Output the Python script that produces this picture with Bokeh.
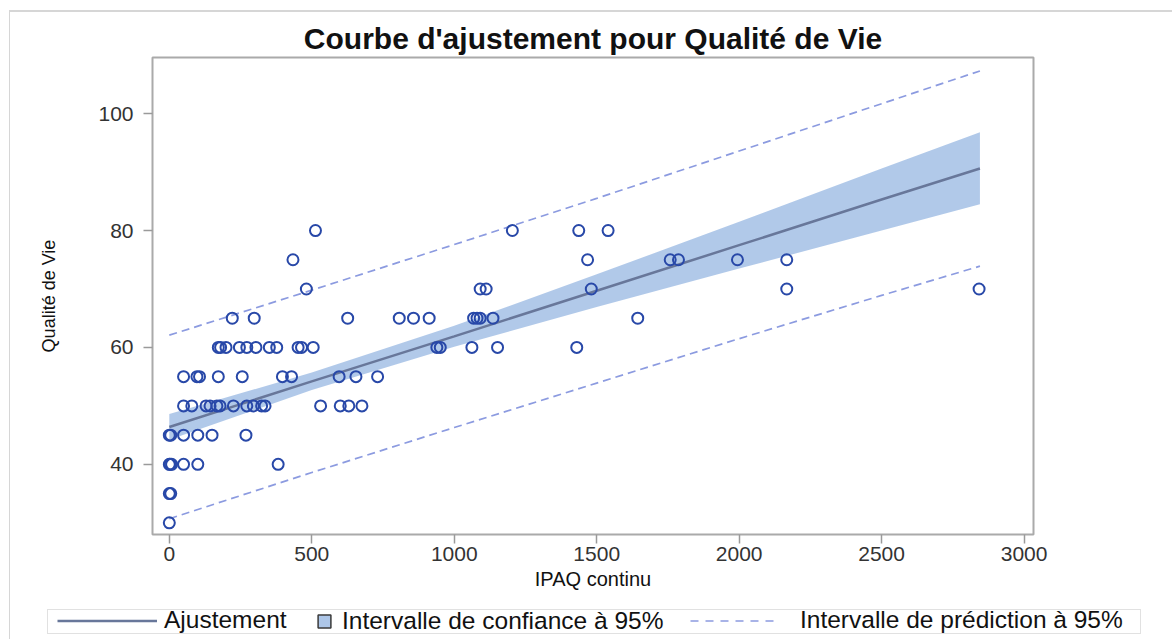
from bokeh.plotting import figure
from bokeh.layouts import column, row
from bokeh.models import Legend, LegendItem, Range1d, FixedTicker
from bokeh.embed import file_html
from bokeh.resources import INLINE

ipaq = [
    0,
    0, 5,
    0, 3, 8, 50, 100, 382,
    0, 5, 50, 100, 150, 269,
    50, 79, 129, 143, 167, 178, 225, 272, 295, 324, 336, 531, 600, 630, 676,
    50, 97, 106, 172, 256, 397, 429, 596, 655, 731,
    172, 180, 199, 246, 272, 304, 351, 377, 452, 464, 505, 939, 951, 1062, 1152, 1430,
    221, 298, 626, 807, 857, 912, 1068, 1080, 1091, 1136, 1644,
    481, 1091, 1112, 1481, 2167, 2842,
    434, 1468, 1758, 1787, 1994, 2167,
    513, 1204, 1437, 1540,
]
qualite = (
    [30]
    + [35] * 2
    + [40] * 6
    + [45] * 6
    + [50] * 15
    + [55] * 10
    + [60] * 16
    + [65] * 11
    + [70] * 6
    + [75] * 6
    + [80] * 4
)

# ---- fitted curve and limits ----
fit_x = [0, 500, 1000, 1500, 2000, 2500, 2845]
fit_y = [46.4, 54.2, 61.9, 69.7, 77.5, 85.3, 90.6]
ci_lo = [44.2, 52.7, 60.1, 66.9, 73.5, 80.0, 84.5]
ci_hi = [48.6, 55.7, 63.7, 72.5, 81.5, 90.6, 96.8]
pi_lo = [30.7, 38.6, 46.3, 53.9, 61.5, 68.9, 73.9]
pi_hi = [62.1, 69.8, 77.6, 85.5, 93.6, 101.7, 107.3]

x_ticks = [0, 500, 1000, 1500, 2000, 2500, 3000]
y_ticks = [40, 60, 80, 100]

FONT = "Liberation Sans"
BAND = "#adc6e8"
FITC = "#68779a"
PIC = "#8c9be0"
MARK = "#2848a8"
W = 1172
NAN = float("nan")

p = figure(
    width=W, height=604,
    output_backend="svg", toolbar_location=None,
    x_range=Range1d(-59, 3033), y_range=Range1d(28.0, 109.6),
    min_border_left=152, min_border_right=W - 1033,
    min_border_top=57, min_border_bottom=70,
    title="Courbe d'ajustement pour Qualité de Vie",
)
p.border_fill_color = None
p.background_fill_color = "white"
p.outline_line_color = "#aaaaaa"
p.outline_line_width = 2
p.xgrid.visible = False
p.ygrid.visible = False

p.title.align = "center"
p.title.text_font = FONT
p.title.text_font_style = "bold"
p.title.text_font_size = "30px"
p.title.text_color = "#111111"
p.title.standoff = 5

xa = p.xaxis[0]
ya = p.yaxis[0]
for ax in (xa, ya):
    ax.axis_line_color = None
    ax.major_tick_line_color = "#9a9a9a"
    ax.major_tick_line_width = 1.5
    ax.major_tick_out = 9
    ax.major_tick_in = 0
    ax.minor_tick_line_color = None
    ax.major_label_text_font = FONT
    ax.major_label_text_font_size = "21px"
    ax.major_label_text_color = "#333333"
    ax.axis_label_text_font = FONT
    ax.axis_label_text_font_style = "normal"
    ax.axis_label_text_color = "#111111"

xa.ticker = FixedTicker(ticks=x_ticks)
ya.ticker = FixedTicker(ticks=y_ticks)
xa.axis_label = "IPAQ continu"
xa.axis_label_text_font_size = "20px"
xa.major_label_standoff = 3
xa.axis_label_standoff = 4
ya.axis_label = "Qualité de Vie"
ya.axis_label_text_font_size = "18px"
ya.major_label_standoff = 10
ya.axis_label_standoff = 36

# confidence band, fit, prediction limits, observations
p.varea(x=fit_x, y1=ci_lo, y2=ci_hi, fill_color=BAND, fill_alpha=0.95)
p.line(fit_x, fit_y, line_color=FITC, line_width=2.5)
p.line(fit_x, pi_hi, line_color=PIC, line_width=1.7, line_dash="8 5")
p.line(fit_x, pi_lo, line_color=PIC, line_width=1.7, line_dash="8 5")
p.scatter(ipaq, qualite, marker="circle", size=11, fill_color=None,
          line_color=MARK, line_width=2)

# ---- legend strip below the plot ----
lf = figure(width=W, height=35, output_backend="svg", toolbar_location=None,
            x_axis_type=None, y_axis_type=None,
            x_range=Range1d(0, 1), y_range=Range1d(0, 1),
            min_border=0, min_border_left=0, min_border_right=0,
            min_border_top=0, min_border_bottom=0)
lf.outline_line_color = None
lf.background_fill_color = None
lf.border_fill_color = None
lf.xgrid.visible = False
lf.ygrid.visible = False

frame_r = lf.line([NAN], [NAN], line_alpha=0)
fit_r = lf.line([NAN], [NAN], line_color=FITC, line_width=2.5)
box_r = lf.scatter([NAN], [NAN], marker="square", size=14, fill_color=BAND,
                   line_color="#3a3a3a", line_width=1.5)
pi_r = lf.line([NAN], [NAN], line_color=PIC, line_width=1.7, line_dash="8 7")

LY = 5
GH = 23

def mk_legend(items, x_off, gw, standoff, gh=GH, ly=LY):
    return Legend(items=items, location=(x_off, ly), orientation="horizontal",
                  glyph_width=gw, glyph_height=gh, label_height=gh, label_width=0,
                  label_standoff=standoff, padding=0, margin=0, spacing=0,
                  label_text_font=FONT, label_text_font_size="24.5px",
                  label_text_color="#111111", border_line_color=None,
                  background_fill_alpha=0)

lg_frame = Legend(items=[LegendItem(label=" ", renderers=[frame_r])],
                  location=(47, LY), glyph_width=1092, glyph_height=GH,
                  label_height=GH, label_width=0, label_standoff=0, padding=0,
                  margin=0, label_text_font_size="1px",
                  border_line_color="#c4c4c4", border_line_width=1.5,
                  background_fill_color="white", background_fill_alpha=1)
lg1 = mk_legend([LegendItem(label="Ajustement", renderers=[fit_r])], 57, 100, 7)
lg2 = mk_legend([LegendItem(label="Intervalle de confiance à 95%", renderers=[box_r])],
                308, 32, 2, gh=32, ly=2)
lg3 = mk_legend([LegendItem(label="Intervalle de prédiction à 95%", renderers=[pi_r])],
                690, 88, 22)
for lg in (lg_frame, lg1, lg2, lg3):
    lf.add_layout(lg, "center")

root = column(p, row(lf, spacing=0), spacing=0)
root.styles = {"box-shadow": "inset 9px 10px 0 0 white, inset 10px 12px 0 0 #d6d6d6"}

open("out.html", "w").write(file_html(root, INLINE))
